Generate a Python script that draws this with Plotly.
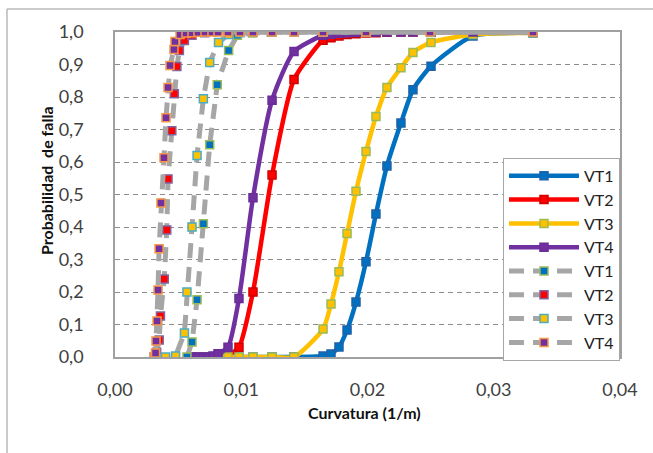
import plotly.graph_objects as go

# Fitted fragility curves: shared curvature grid (1/m) and failure probabilities
curv_fit = [0.00618, 0.00657, 0.00697, 0.00737, 0.00776, 0.00816, 0.00895, 0.00982,
            0.01093, 0.01244, 0.01418, 0.01648, 0.01711, 0.01774, 0.01838, 0.01909,
            0.01988, 0.02067, 0.02154, 0.02265, 0.02360, 0.02503, 0.02836, 0.03311]
fit_vt1 = [0, 0, 0, 0, 0, 0, 0, 0, 0, 0, 0, 0.003, 0.009, 0.031, 0.083, 0.169,
           0.293, 0.44, 0.588, 0.72, 0.822, 0.895, 0.988, 0.997]
fit_vt2 = [0, 0, 0, 0, 0, 0, 0.005, 0.03, 0.2, 0.56, 0.854, 0.975, 0.982, 0.988,
           0.992, 0.995, 0.997, 0.998, 0.999, 1, 1, 1, 1, 1]
fit_vt3 = [0, 0, 0, 0, 0, 0, 0, 0, 0, 0, 0, 0.086, 0.163, 0.262, 0.38, 0.51,
           0.632, 0.74, 0.829, 0.89, 0.937, 0.968, 0.992, 0.998]
fit_vt4 = [0, 0, 0, 0, 0.003, 0.01, 0.03, 0.18, 0.49, 0.79, 0.94, 0.99, 0.993,
           0.996, 0.998, 0.999, 1, 1, 1, 1, 1, 1, 1, 1]

# Empirical curves (dashed grey)
emp_x_vt1 = [0.0057, 0.0061, 0.0065, 0.0070, 0.0075, 0.0081, 0.0090, 0.0097,
             0.0109, 0.0124, 0.0142, 0.0165, 0.0199, 0.0250, 0.0331]
emp_p_vt1 = [0, 0.046, 0.176, 0.41, 0.653, 0.838, 0.943, 0.99, 0.997, 0.999,
             1, 1, 1, 1, 1]

emp_x_vt2 = [0.0031, 0.0033, 0.0035, 0.0036, 0.0039, 0.0041, 0.0042, 0.0045,
             0.0047, 0.0049, 0.0051, 0.0055, 0.0061, 0.0071, 0.0090, 0.0124,
             0.0165, 0.0250, 0.0331]
emp_p_vt2 = [0, 0.015, 0.052, 0.126, 0.24, 0.391, 0.548, 0.696, 0.81, 0.894,
             0.943, 0.974, 0.99, 0.998, 1, 1, 1, 1, 1]

emp_x_vt3 = [0.0032, 0.0040, 0.0048, 0.0055, 0.0057, 0.0061, 0.0065, 0.0070,
             0.0075, 0.0082, 0.0090, 0.0099, 0.0109, 0.0124, 0.0142, 0.0165,
             0.0199, 0.0250, 0.0331]
emp_p_vt3 = [0, 0, 0.003, 0.074, 0.2, 0.40, 0.62, 0.795, 0.906, 0.968, 0.992,
             0.998, 0.999, 1, 1, 1, 1, 1, 1]

emp_x_vt4 = [0.00310, 0.00321, 0.00325, 0.00333, 0.00341, 0.00349, 0.00364,
             0.00388, 0.00404, 0.00420, 0.00436, 0.00467, 0.00475, 0.00515,
             0.00562, 0.00610, 0.00657, 0.00713, 0.00768, 0.00816, 0.00895,
             0.00990, 0.01093, 0.01244, 0.01418, 0.01648, 0.01988, 0.02495,
             0.03311]
emp_p_vt4 = [0, 0.012, 0.049, 0.111, 0.206, 0.333, 0.474, 0.613, 0.736, 0.829,
             0.897, 0.946, 0.971, 0.992, 0.997, 0.998, 0.999, 1, 1, 1, 1, 1, 1,
             1, 1, 1, 1, 1, 1]

names = ["VT1", "VT2", "VT3", "VT4"]
fit_colors = ["#0070C0", "#FF0000", "#FFC000", "#7030A0"]
fit_edges = ["#1F62A8", "#D00000", "#9BBB59", "#6A2C98"]
emp_fill = ["#0070C0", "#FF0000", "#FFC000", "#7030A0"]
emp_edges = ["#9BBB59", "#8064A2", "#4BACC6", "#F79646"]
grey = "#A6A6A6"

fit_series = [fit_vt1, fit_vt2, fit_vt3, fit_vt4]
emp_series = [(emp_x_vt1, emp_p_vt1), (emp_x_vt2, emp_p_vt2),
              (emp_x_vt3, emp_p_vt3), (emp_x_vt4, emp_p_vt4)]

fig = go.Figure()

for name, p, col, edge in zip(names, fit_series, fit_colors, fit_edges):
    fig.add_trace(go.Scatter(
        x=curv_fit, y=p, name=name, mode="lines+markers",
        line=dict(color=col, width=4.5, shape="spline", smoothing=0.6),
        marker=dict(symbol="square", size=8, color=col,
                    line=dict(color=edge, width=1.5)),
    ))

for name, (x, p), fill, edge in zip(names, emp_series, emp_fill, emp_edges):
    fig.add_trace(go.Scatter(
        x=x, y=p, name=name, mode="lines+markers",
        line=dict(color=grey, width=5, dash="15px,9px"),
        marker=dict(symbol="square", size=8, color=fill,
                    line=dict(color=edge, width=1.5)),
    ))

font_main = "Lato, 'Open Sans', sans-serif"

fig.update_layout(
    width=653, height=453, autosize=False,
    margin=dict(l=115, r=33, t=32, b=96),
    paper_bgcolor="white", plot_bgcolor="white",
    separators=",.",
    font=dict(family=font_main, size=18, color="#404040"),
    showlegend=True,
    legend=dict(
        x=1, xanchor="right", y=-0.012, yanchor="bottom",
        bgcolor="white", bordercolor="#A6A6A6", borderwidth=1,
        font=dict(family=font_main, size=16, color="#222222"),
        itemwidth=70, tracegroupgap=0,
    ),
    xaxis=dict(
        range=[0, 0.04], dtick=0.01, tick0=0, tickformat=".2f",
        showgrid=False, zeroline=False, showline=True, mirror=True,
        linecolor="#A0A0A0", linewidth=1.5, ticks="",
        ticklabelstandoff=16,
    ),
    yaxis=dict(
        range=[0, 1], dtick=0.1, tick0=0, tickformat=".1f",
        showgrid=True, gridcolor="#8C8C8C", gridwidth=1, griddash="5px,4px",
        zeroline=False, showline=True, mirror=True,
        linecolor="#A0A0A0", linewidth=1.5, ticks="",
        ticklabelstandoff=26,
    ),
    annotations=[
        dict(text="<b>Curvatura (1/m)</b>", x=0.495, y=-0.172,
             xanchor="center", yanchor="middle",
             xref="paper", yref="paper", showarrow=False,
             font=dict(family=font_main, size=16, color="#111111")),
        dict(text="<b>Probabilidad  de falla</b>", x=-0.1366, y=0.5415,
             xanchor="center", yanchor="middle",
             xref="paper", yref="paper", showarrow=False, textangle=-90,
             font=dict(family=font_main, size=16, color="#111111")),
    ],
    shapes=[
        dict(type="line", xref="paper", yref="paper", x0=-0.2139, x1=-0.2139,
             y0=-0.33, y1=1.0708, line=dict(color="#B8B8B8", width=1.5)),
        dict(type="line", xref="paper", yref="paper", x0=-0.2139, x1=1.1,
             y0=1.0708, y1=1.0708, line=dict(color="#B8B8B8", width=1.5)),
    ],
)

fig.write_html("out.html")
